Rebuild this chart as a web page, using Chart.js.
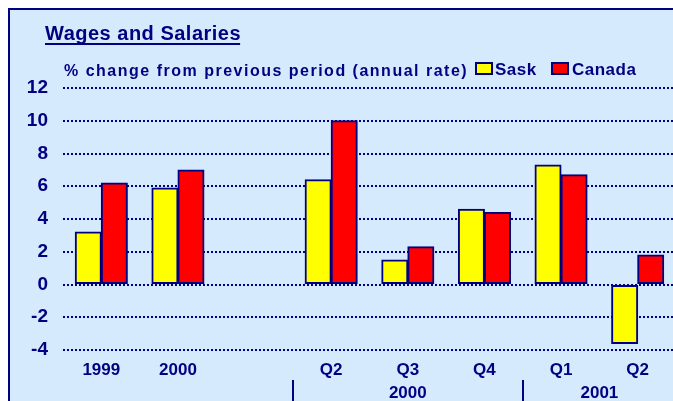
<!DOCTYPE html>
<html>
<head>
<meta charset="utf-8">
<script src="https://cdn.jsdelivr.net/npm/chart.js@4"></script>
<style>
  html, body { margin: 0; padding: 0; background: #fff; }
  #wrap { width: 673px; height: 401px; overflow: hidden; position: relative; }
  canvas { display: block; }
</style>
</head>
<body>
<div id="wrap"><canvas id="wagescanvas" width="690" height="401"></canvas></div>
<script>
// categories (blank one is the gap between annual and quarterly bars)
var categories = ["1999", "2000", "", "Q2", "Q3", "Q4", "Q1", "Q2"];
var yearGroups = ["2000", "2001"];
// % change from previous period (annual rate)
var sask = [3.2, 5.9, null, 6.4, 1.5, 4.6, 7.3, -3.6];
var canada = [6.2, 7.0, null, 10.0, 2.3, 4.4, 6.7, 1.8];
var yTicks = [-4, -2, 0, 2, 4, 6, 8, 10, 12];

var NAVY = "#000080";
var BG = "#d6eafe";
var FONT = "Liberation Sans, Arial, sans-serif";

//frame, title, subtitle, legend and year rows
var decor = {
    id: "decor",
    beforeDraw: function (chart) {
        var ctx = chart.ctx;
        ctx.save();
        ctx.fillStyle = "#ffffff";
        ctx.fillRect(0, 0, chart.width, chart.height);
        ctx.fillStyle = NAVY;
        ctx.fillRect(8, 8, chart.width, chart.height);
        ctx.fillStyle = BG;
        ctx.fillRect(10, 10, chart.width, chart.height);
        ctx.restore();
    },
    afterDraw: function (chart) {
        var ctx = chart.ctx;
        var x = chart.scales.x;
        ctx.save();
        ctx.fillStyle = NAVY;
        ctx.textBaseline = "alphabetic";
        ctx.textAlign = "left";

        // title
        ctx.font = "bold 20px " + FONT;
        ctx.letterSpacing = "0.5px";
        ctx.fillText("Wages and Salaries", 45, 40);
        var tw = ctx.measureText("Wages and Salaries").width;
        ctx.fillRect(45, 43, tw - 1, 2);

        // subtitle
        ctx.font = "bold 16px " + FONT;
        ctx.letterSpacing = "1.5px";
        ctx.fillText("% change from previous period (annual rate)", 64, 76);

        // legend
        ctx.font = "bold 17px " + FONT;
        ctx.letterSpacing = "0.5px";
        var items = [["Sask", "#ffff00", 475, 495], ["Canada", "#ff0000", 551, 572]];
        items.forEach(function (it) {
            ctx.fillStyle = it[1];
            ctx.fillRect(it[2], 62, 18, 13);
            ctx.strokeStyle = NAVY;
            ctx.lineWidth = 2;
            ctx.strokeRect(it[2] + 1, 63, 16, 11);
            ctx.fillStyle = NAVY;
            ctx.fillText(it[0], it[3], 75);
        });

        // second row of x labels
        ctx.letterSpacing = "0px";
        ctx.font = "bold 17px " + FONT;
        ctx.textAlign = "center";
        ctx.textBaseline = "middle";
        var c2000 = x.getPixelForValue(4);
        var c2001 = (x.getPixelForValue(6) + x.getPixelForValue(7)) / 2;
        ctx.fillText(yearGroups[0], c2000, 393);
        ctx.fillText(yearGroups[1], c2001, 393);

        var s1 = (x.getPixelForValue(2) + x.getPixelForValue(3)) / 2;
        var s2 = (x.getPixelForValue(5) + x.getPixelForValue(6)) / 2;
        ctx.fillRect(Math.round(s1) - 1, 380, 2, 30);
        ctx.fillRect(Math.round(s2) - 1, 380, 2, 30);
        ctx.restore();
    }
};

window.onload = function () {
    var ctx = document.getElementById("wagescanvas").getContext("2d");
    window.myBar = new Chart(ctx, {
        type: "bar",
        plugins: [decor],
        data: {
            labels: categories,
            datasets: [
                {
                    label: "Sask",
                    data: sask,
                    backgroundColor: "#ffff00",
                    borderColor: NAVY,
                    borderWidth: 2,
                    borderSkipped: false,
                    inflateAmount: 0.5
                },
                {
                    label: "Canada",
                    data: canada,
                    backgroundColor: "#ff0000",
                    borderColor: NAVY,
                    borderWidth: 2,
                    borderSkipped: false,
                    inflateAmount: 0.5
                }
            ]
        },
        options: {
            responsive: false,
            animation: false,
            devicePixelRatio: 1,
            layout: { padding: { top: 88, right: 14, left: 0, bottom: 0 } },
            categoryPercentage: 0.68,
            barPercentage: 1.0,
            plugins: {
                legend: { display: false },
                title: { display: false },
                tooltip: { enabled: false }
            },
            scales: {
                x: {
                    grid: { display: false, drawTicks: false },
                    border: { display: false },
                    ticks: {
                        color: NAVY,
                        font: { family: FONT, size: 17, weight: "bold" },
                        padding: 10,
                        maxRotation: 0,
                        autoSkip: false
                    },
                    afterFit: function (s) { s.height = 51; }
                },
                y: {
                    min: -4,
                    max: 12,
                    afterBuildTicks: function (s) {
                        s.ticks = yTicks.map(function (v) { return { value: v }; });
                    },
                    grid: {
                        color: NAVY,
                        lineWidth: 2,
                        drawTicks: false
                    },
                    border: { display: false, dash: [2, 2] },
                    ticks: {
                        color: NAVY,
                        font: { family: FONT, size: 19, weight: "bold" },
                        padding: 15
                    },
                    afterFit: function (s) { s.width = 63; }
                }
            }
        }
    });
};
</script>
</body>
</html>
